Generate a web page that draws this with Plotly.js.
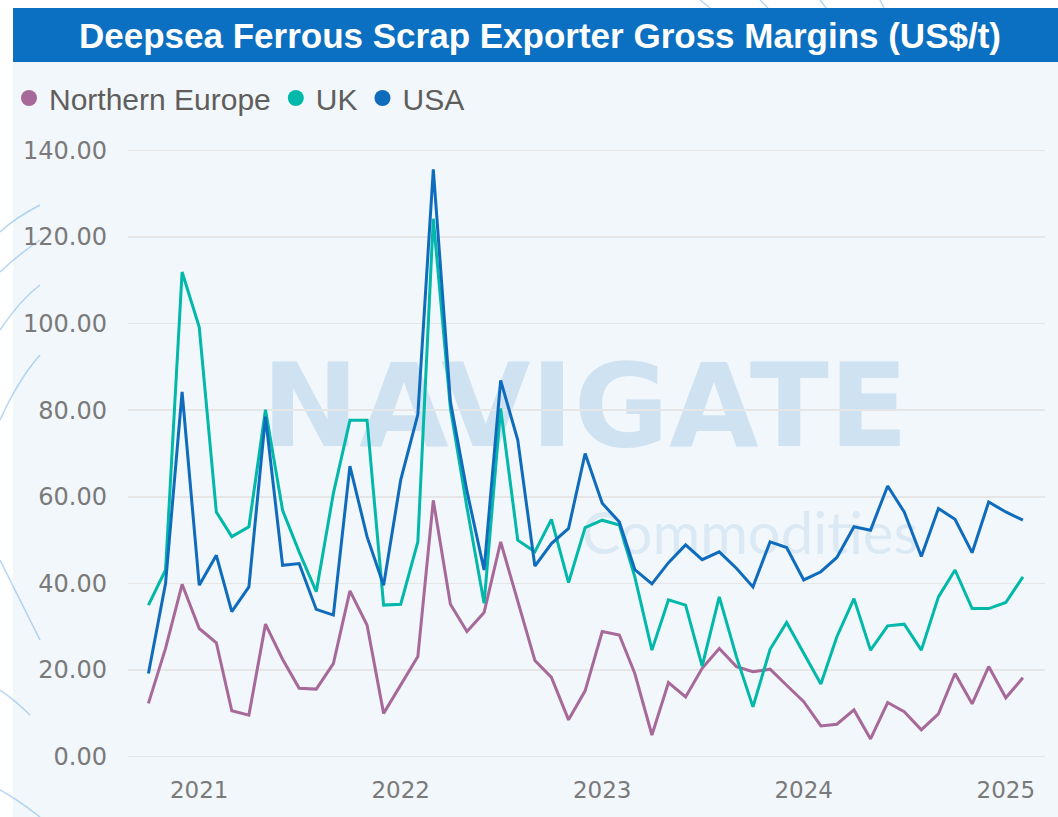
<!DOCTYPE html>
<html>
<head>
<meta charset="utf-8">
<script src="https://cdn.plot.ly/plotly-3.0.1.min.js"></script>
<style>
  html, body { margin: 0; padding: 0; background: #ffffff; }
  #chart { width: 1058px; height: 817px; }
</style>
</head>
<body>
<div id="chart"></div>
<script>
// ---------------- DATA ----------------
const months = [
  '2020-10-01','2020-11-01','2020-12-01',
  '2021-01-01','2021-02-01','2021-03-01','2021-04-01','2021-05-01','2021-06-01',
  '2021-07-01','2021-08-01','2021-09-01','2021-10-01','2021-11-01','2021-12-01',
  '2022-01-01','2022-02-01','2022-03-01','2022-04-01','2022-05-01','2022-06-01',
  '2022-07-01','2022-08-01','2022-09-01','2022-10-01','2022-11-01','2022-12-01',
  '2023-01-01','2023-02-01','2023-03-01','2023-04-01','2023-05-01','2023-06-01',
  '2023-07-01','2023-08-01','2023-09-01','2023-10-01','2023-11-01','2023-12-01',
  '2024-01-01','2024-02-01','2024-03-01','2024-04-01','2024-05-01','2024-06-01',
  '2024-07-01','2024-08-01','2024-09-01','2024-10-01','2024-11-01','2024-12-01',
  '2025-01-01','2025-02-01'
];
const northernEurope = [
  12.3, 25.0, 39.8,
  29.6, 26.3, 10.6, 9.6, 30.6, 22.5, 15.8, 15.6, 21.5, 38.3, 30.4, 10.0,
  16.5, 23.1, 59.2, 35.2, 28.9, 33.3, 49.6, 35.8, 22.2, 18.3, 8.5, 15.2,
  28.9, 28.1, 19.2, 5.0, 17.1, 13.8, 20.4, 25.0, 20.8, 19.6, 20.2, 16.5,
  12.7, 7.1, 7.5, 10.8, 4.1, 12.5, 10.4, 6.2, 9.9, 19.2, 12.2, 20.8,
  13.6, 18.2
];
const uk = [
  35.0, 43.1, 111.9,
  99.2, 56.5, 50.8, 53.1, 80.1, 56.9, 47.3, 38.1, 60.8, 77.7, 77.7, 35.0,
  35.2, 49.6, 124.2, 80.5, 57.5, 35.4, 80.4, 50.0, 47.3, 54.8, 40.2, 52.9,
  54.6, 53.5, 41.5, 24.6, 36.2, 35.0, 20.9, 36.9, 23.1, 11.5, 24.8, 31.0,
  23.9, 16.8, 27.7, 36.5, 24.6, 30.2, 30.6, 24.6, 36.9, 43.1, 34.2, 34.2,
  35.6, 41.5
];
const usa = [
  19.2, 40.0, 84.2,
  39.6, 46.5, 33.5, 39.2, 78.5, 44.2, 44.6, 34.0, 32.7, 67.1, 50.8, 39.6,
  63.9, 79.0, 135.6, 82.0, 61.3, 43.1, 86.9, 73.1, 44.0, 49.2, 52.7, 70.0,
  58.5, 54.2, 43.2, 39.9, 44.8, 48.9, 45.5, 47.3, 43.5, 39.2, 49.6, 48.3,
  40.8, 42.7, 46.0, 53.1, 52.3, 62.5, 56.5, 46.2, 57.3, 54.8, 47.1, 58.8,
  56.5, 54.6
];
const seriesNames = ['Northern Europe', 'UK', 'USA'];
const yearTickDates = ['2021-01-01', '2022-01-01', '2023-01-01', '2024-01-01', '2025-01-01'];
const yearTickLabels = ['2021', '2022', '2023', '2024', '2025'];
const yTickValues = [0, 20, 40, 60, 80, 100, 120, 140];
const chartTitle = 'Deepsea Ferrous Scrap Exporter Gross Margins (US$/t)';
const watermarkMain = 'NAVIGATE';
const watermarkSub = 'Commodities';

// ---------------- STYLE / LAYOUT ----------------
const W = 1058, H = 817;
const M = { l: 128, r: 13, t: 133, b: 43 };
const PW = W - M.l - M.r, PH = H - M.t - M.b;
const px = x => (x - M.l) / PW;             // pixel x -> paper x
const py = y => (M.t + PH - y) / PH;         // pixel y -> paper y

const colors = ['#A66999', '#01B8AA', '#0F6CBD'];
const seriesData = [northernEurope, uk, usa];

const traces = [];
seriesData.forEach((vals, i) => {
  traces.push({
    type: 'scatter', mode: 'lines', x: months, y: vals,
    name: seriesNames[i], showlegend: false,
    line: { color: colors[i], width: 3, shape: 'linear' },
    hoverinfo: 'x+y+name'
  });
});
seriesNames.forEach((n, i) => {
  traces.push({
    type: 'scatter', mode: 'markers', x: [null], y: [null],
    name: n, showlegend: true,
    marker: { color: colors[i], size: 17, symbol: 'circle' }
  });
});

function arc(x0, y0, cx, cy, x1, y1) {
  return {
    type: 'path', xref: 'paper', yref: 'paper', layer: 'below',
    path: `M ${px(x0)} ${py(y0)} Q ${px(cx)} ${py(cy)} ${px(x1)} ${py(y1)}`,
    line: { color: 'rgba(120,180,235,0.55)', width: 1.5 }
  };
}

const shapes = [
  // light background
  { type: 'rect', xref: 'paper', yref: 'paper', layer: 'below',
    x0: px(13), x1: px(W), y0: py(H), y1: py(62),
    fillcolor: '#F2F7FB', line: { width: 0 } },
  // decorative arcs
  arc(0, 232, 15, 218, 40, 205),
  arc(0, 272, 18, 255, 40, 240),
  arc(0, 330, 20, 300, 40, 285),
  arc(0, 420, 18, 380, 40, 355),
  arc(0, 560, 20, 600, 40, 640),
  arc(0, 690, 15, 700, 30, 715),
  arc(0, 790, 18, 800, 40, 817),
  arc(700, 0, 705, 4, 710, 8),
  arc(760, 0, 764, 4, 768, 8),
  arc(820, 0, 823, 4, 826, 8),
  arc(880, 0, 882, 4, 884, 8),
  // title banner
  { type: 'rect', xref: 'paper', yref: 'paper', layer: 'above',
    x0: px(13), x1: px(W), y0: py(62), y1: py(8),
    fillcolor: '#0B70C1', line: { width: 0 } },
  // watermark
  { type: 'rect', xref: 'paper', yref: 'paper', layer: 'below',
    x0: px(230), x1: px(940), y0: py(450), y1: py(345),
    line: { width: 0 }, fillcolor: 'rgba(0,0,0,0)',
    label: { text: watermarkMain, textposition: 'middle center',
      font: { family: 'DejaVu Sans, sans-serif', weight: 'bold', size: 116, color: 'rgba(20,120,200,0.16)' } } },
  { type: 'rect', xref: 'paper', yref: 'paper', layer: 'below',
    x0: px(570), x1: px(930), y0: py(560), y1: py(500),
    line: { width: 0 }, fillcolor: 'rgba(0,0,0,0)',
    label: { text: watermarkSub, textposition: 'middle center',
      font: { family: 'Lato, Noto Sans, sans-serif', size: 58, color: 'rgba(20,120,200,0.10)' } } }
];

const layout = {
  width: W, height: H,
  margin: M,
  paper_bgcolor: '#FFFFFF',
  plot_bgcolor: 'rgba(0,0,0,0)',
  title: {
    text: '<b>' + chartTitle + '</b>',
    font: { family: 'Liberation Sans, Arial, sans-serif', size: 35, color: '#FFFFFF' },
    x: 540 / W, xref: 'container', xanchor: 'center',
    y: 1 - 36 / H, yref: 'container', yanchor: 'middle'
  },
  showlegend: true,
  legend: {
    orientation: 'h', xref: 'container', yref: 'container',
    x: 9 / W, xanchor: 'left', y: 1 - 98 / H, yanchor: 'middle',
    font: { family: 'Liberation Sans, Arial, sans-serif', size: 30, color: '#605E5C' },
    bgcolor: 'rgba(0,0,0,0)', itemwidth: 30, tracegroupgap: 0
  },
  xaxis: {
    type: 'date', range: ['2020-08-25', '2025-03-13'], automargin: false,
    tickmode: 'array', tickvals: yearTickDates, ticktext: yearTickLabels,
    showgrid: false, zeroline: false, showline: false, ticks: '',
    tickfont: { family: 'DejaVu Sans, sans-serif', size: 23, color: '#7A7A7A' },
    fixedrange: true
  },
  yaxis: {
    range: [-4, 144], tickmode: 'array', tickvals: yTickValues, automargin: false,
    tickformat: '.2f', showgrid: true, gridcolor: '#E6E6E6', gridwidth: 1.5,
    zeroline: false, showline: false, ticks: '', ticklabelstandoff: 20,
    tickfont: { family: 'DejaVu Sans, sans-serif', size: 24, color: '#7A7A7A' },
    fixedrange: true
  },
  shapes: shapes
};

Plotly.newPlot('chart', traces, layout, { displayModeBar: false, staticPlot: true });
</script>
</body>
</html>
